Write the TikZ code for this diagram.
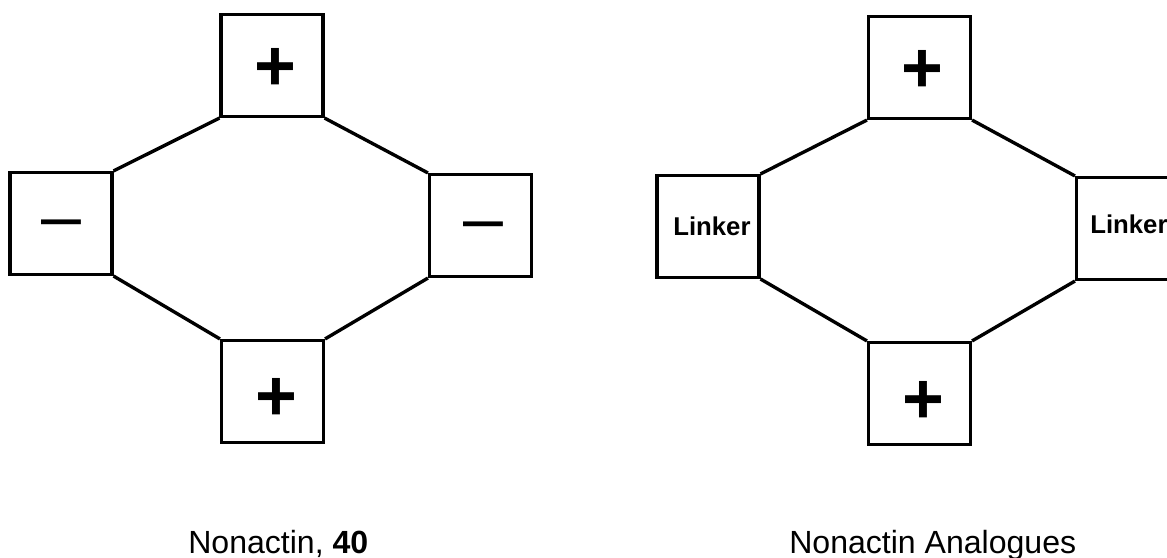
\documentclass[tikz,border=0pt]{standalone}
\usepackage{fontspec}
\setmainfont{Liberation Sans}
\usepackage{tikz}
\usetikzlibrary{positioning,calc}

\begin{document}
\begin{tikzpicture}[x=0.025cm, y=-0.025cm,
    unit/.style={draw, line width=2.2pt, minimum size=2.55cm, inner sep=0pt},
    ring/.style={line width=2.4pt},
    sign/.style={inner sep=0pt, font=\fontsize{51}{51}\selectfont},
    plussign/.style={sign, font=\fontsize{51}{51}\selectfont\bfseries},
    linker/.style={inner sep=0pt, anchor=base west, font=\fontsize{18.3}{20}\selectfont\bfseries},
    caption/.style={inner sep=0pt, anchor=base west, font=\fontsize{22.8}{26}\selectfont}]
  \useasboundingbox (0,0) rectangle (1167,558);
  \clip (0,0) rectangle (1167,558);

  % Nonactin: the four units
  \node[unit] (ntop) at (272,65.5) {};
  \node[unit] (nleft) at (61,223.5) {};
  \node[unit] (nright) at (480.5,225.5) {};
  \node[unit] (nbot) at (272.5,391.5) {};
  \node[plussign] (ntopsign) at (275,69) {+};
  \node[plussign] (nbotsign) at (276,399) {+};
  \node[sign] (nleftsign) at (61,230) {\textendash};
  \node[sign] (nrightsign) at (483,232) {\textendash};

  % Nonactin: the ring
  \draw[ring] (nleft.north east) -- (ntop.south west);
  \draw[ring] (ntop.south east) -- (nright.north west);
  \draw[ring] (nright.south west) -- (nbot.north east);
  \draw[ring] (nbot.north west) -- (nleft.south east);

  % Analogues: the four units
  \node[unit] (atop) at (919.5,67.5) {};
  \node[unit] (aleft) at (708,226.5) {};
  \node[unit] (aright) at (1127.5,228.5) {};
  \node[unit] (abot) at (919.5,393.5) {};
  \node[plussign] (atopsign) at (922,71) {+};
  \node[plussign] (abotsign) at (923,402) {+};
  \node[linker] (aleftlink) at (673,235) {Linker};
  \node[linker] (arightlink) at (1090,233) {Linker};

  % Analogues: the ring
  \draw[ring] (aleft.north east) -- (atop.south west);
  \draw[ring] (atop.south east) -- (aright.north west);
  \draw[ring] (aright.south west) -- (abot.north east);
  \draw[ring] (abot.north west) -- (aleft.south east);

  % Captions
  \node[caption] (ncap) at (188,553) {Nonactin, \textbf{40}};
  \node[caption] (acap) at (789,553) {Nonactin Analogues};
\end{tikzpicture}
\end{document}
